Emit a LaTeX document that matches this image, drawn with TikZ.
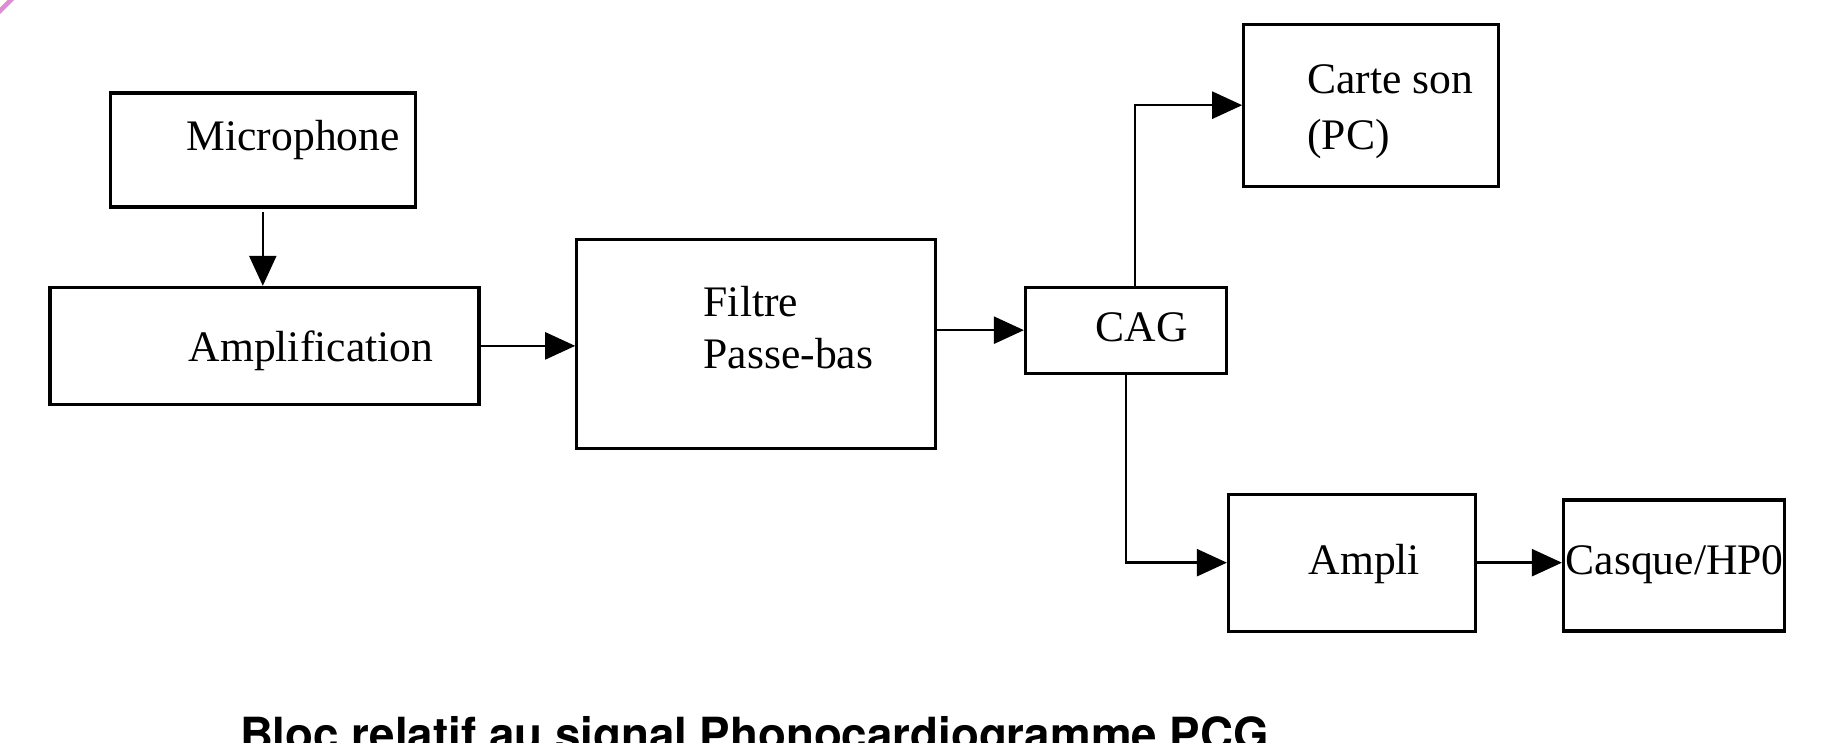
\documentclass[tikz,border=0pt]{standalone}
\usepackage{fontspec}
\setmainfont{Liberation Serif}
\newfontfamily\legendfont{TeX Gyre Heros}
\usetikzlibrary{arrows.meta, positioning}
\definecolor{coincolor}{RGB}{222,140,212}

\begin{document}
\begin{tikzpicture}[
    bloc/.style={draw, line width=0.9pt, inner sep=0pt},
    txt/.style={anchor=base west, inner sep=0pt, font=\fontsize{12.4}{14.7}\selectfont},
    fleche/.style={-{Triangle[length=3mm, width=2.7mm]}, line width=0.7pt}
]
    \clip (0,0) rectangle (18.23,7.43);
    \draw[coincolor, line width=1.3pt] (-0.1,7.22) -- (0.2,7.52);

    % blocs
    \node[bloc, minimum width=3.05cm, minimum height=1.14cm] (micro) at (2.628,5.93) {};
    \node[bloc, minimum width=4.29cm, minimum height=1.17cm] (amplif) at (2.645,3.971) {};
    \node[bloc, minimum width=3.59cm, minimum height=2.09cm] (filtre) at (7.563,3.989) {};
    \node[bloc, minimum width=2.01cm, minimum height=0.86cm] (cag) at (11.26,4.128) {};
    \node[bloc, minimum width=2.55cm, minimum height=1.62cm] (carte) at (13.713,6.378) {};
    \node[bloc, minimum width=2.47cm, minimum height=1.37cm] (ampli) at (13.52,1.803) {};
    \node[bloc, minimum width=2.21cm, minimum height=1.31cm] (casque) at (16.74,1.774) {};

    % textes
    \node[txt] (microtxt) at (1.86,5.923) {Microphone};
    \node[txt] (amplitxt) at (1.88,3.813) {Amplification};
    \node[txt] (filtretxt) at (7.03,4.263) {Filtre};
    \node[txt] (passetxt) at (7.03,3.747) {Passe-bas};
    \node[txt] (cagtxt) at (10.95,4.013) {CAG};
    \node[txt] (cartetxt) at (13.067,6.497) {Carte son};
    \node[txt] (pctxt) at (13.067,5.93) {(PC)};
    \node[txt] (amplitxtb) at (13.08,1.687) {Ampli};
    \node[txt] (casquetxt) at (15.65,1.687) {Casque/HP0};

    % liaisons
    \draw[fleche] ([yshift=-0.3mm]micro.south) -- (micro.south |- amplif.north);
    \draw[fleche] (amplif.east) -- (amplif.east -| filtre.west);
    \draw[fleche] (cag.west -| filtre.east) -- (cag.west);
    \draw[fleche] ([xshift=0.9mm]cag.north) |- (carte.west);
    \draw[fleche] (cag.south) |- (ampli.west);
    \draw[fleche] (ampli.east) -- (ampli.east -| casque.west);

    \node[anchor=base west, inner sep=0pt, font=\legendfont\bfseries\fontsize{13}{15}\selectfont] (legende) at (2.393,-0.08) {Bloc relatif au signal Phonocardiogramme PCG};
\end{tikzpicture}
\end{document}
